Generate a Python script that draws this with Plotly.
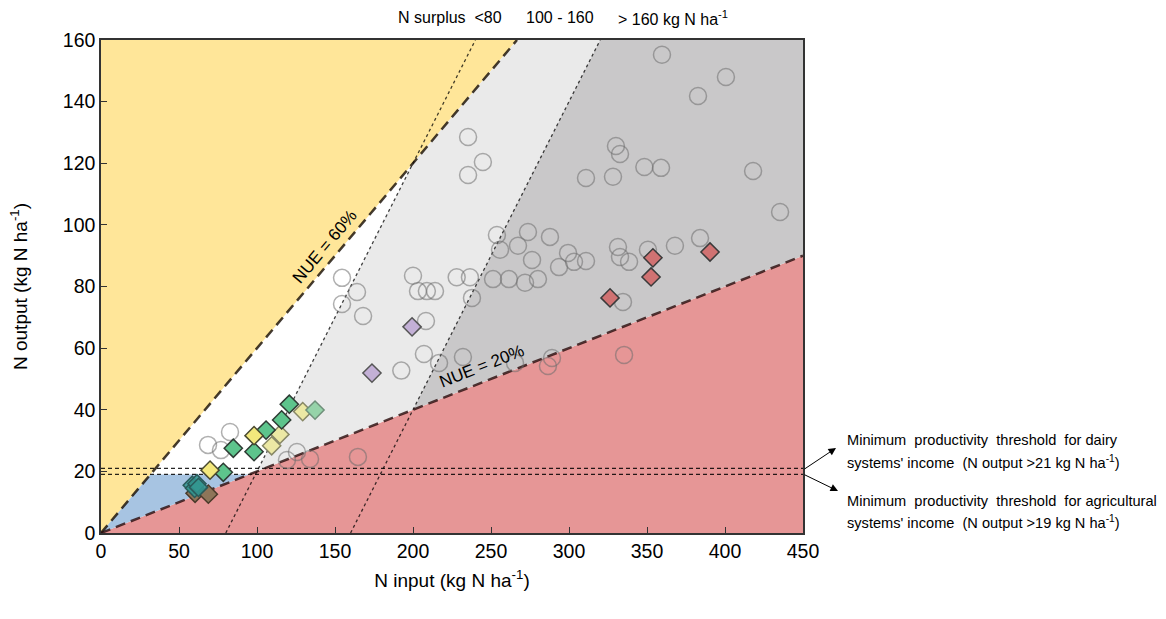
import plotly.graph_objects as go

# ---------------- data ----------------
nue_high = 0.60
nue_low = 0.20
surplus_a = 80
surplus_b = 160
thr_dairy = 21
thr_agri = 19
x_max = 450
y_max = 160

circ_x = [359.6, 400.6, 382.7, 235.3, 244.8, 235.3, 330.1, 332.7, 348.3, 359.0, 310.9, 328.2, 418.0, 435.3,
          253.8, 273.7, 287.8, 267.3, 255.8, 299.4, 276.3, 303.2, 310.9, 293.6, 331.4, 332.7, 338.5, 350.6,
          367.9, 384.0, 200.0, 228.0, 236.5, 251.3, 261.5, 271.8, 280.1, 203.2, 208.9, 214.1, 237.8, 208.3,
          207.0, 232.0, 192.5, 216.7, 265.4, 289.1, 286.5, 335.3, 334.6, 154.5, 164.1, 154.5, 168.0,
          68.6, 82.7, 76.9, 119.2, 125.6, 134.0, 164.7]
circ_y = [155.2, 148.0, 141.8, 128.5, 120.4, 116.2, 125.6, 123.0, 118.8, 118.5, 115.2, 115.6, 117.5, 104.2,
          96.7, 97.7, 96.1, 93.2, 91.9, 90.9, 88.6, 88.0, 88.3, 86.3, 92.8, 89.6, 88.0, 91.9,
          93.2, 95.7, 83.5, 83.0, 83.0, 82.4, 82.4, 81.2, 82.4, 78.5, 78.5, 78.5, 76.3, 68.8,
          58.1, 57.1, 52.7, 55.2, 55.2, 56.8, 54.2, 57.8, 75.0, 82.8, 78.2, 74.3, 70.4,
          28.6, 32.8, 26.9, 23.7, 26.3, 24.0, 24.7]

red_x = [353.8, 390.4, 352.6, 326.3]
red_y = [89.3, 91.2, 83.1, 76.3]
purple_x = [199.4, 173.7]
purple_y = [66.9, 51.9]
green_x = [120.7, 115.8, 105.8, 84.8, 98.1, 78.4]
green_y = [41.8, 36.7, 33.4, 27.5, 26.4, 19.7]
lgreen_x = [137.2]
lgreen_y = [39.9]
yellow_x = [98.1, 69.9]
yellow_y = [31.6, 20.4]
pyellow_x = [129.3, 114.7, 109.4]
pyellow_y = [39.4, 32.0, 28.3]
brown_x = [60.3, 68.8]
brown_y = [12.9, 12.6]
teal_x = [58.5, 60.0, 61.5, 62.5]
teal_y = [15.5, 14.5, 16.0, 14.8]

x_ticks = [0, 50, 100, 150, 200, 250, 300, 350, 400, 450]
y_ticks = [0, 20, 40, 60, 80, 100, 120, 140, 160]

FONT = "Liberation Sans, Arial, sans-serif"

fig = go.Figure()

def poly(xs, ys, color):
    fig.add_trace(go.Scatter(x=xs + [xs[0]], y=ys + [ys[0]], mode="lines", fill="toself",
                             fillcolor=color, line=dict(width=0), hoverinfo="skip", showlegend=False))

# regions derived from thresholds
x60_top = y_max / nue_high
poly([0, x60_top, 0], [0, y_max, y_max], "#FFE699")
poly([0, x_max, x_max], [0, x_max * nue_low, 0], "#E69696")
xa_low = surplus_a / (1 - nue_low)
xa_high = surplus_a / (1 - nue_high)
xb_low = surplus_b / (1 - nue_low)
poly([xa_low, xa_high, x60_top, surplus_b + y_max, xb_low],
     [xa_low - surplus_a, xa_high - surplus_a, y_max, y_max, xb_low - surplus_b], "#EAEAEA")
poly([xb_low, surplus_b + y_max, x_max, x_max],
     [xb_low - surplus_b, y_max, y_max, x_max * nue_low], "#C9C8C9")
poly([0, thr_agri / nue_high, thr_agri / nue_low], [0, thr_agri, thr_agri], "#A7C4E2")

def line(xs, ys, color, width, dash):
    fig.add_trace(go.Scatter(x=xs, y=ys, mode="lines", line=dict(color=color, width=width, dash=dash),
                             hoverinfo="skip", showlegend=False))

# surplus dotted lines
line([surplus_a, surplus_a + y_max], [0, y_max], "rgba(0,0,0,0.75)", 1.3, "dot")
line([surplus_b, surplus_b + y_max], [0, y_max], "rgba(0,0,0,0.75)", 1.3, "dot")
# thresholds
line([0, x_max], [thr_dairy, thr_dairy], "rgba(0,0,0,0.85)", 1.2, "4px,3px")
line([0, x_max], [thr_agri, thr_agri], "rgba(0,0,0,0.85)", 1.2, "4px,3px")
# NUE lines
line([0, x60_top], [0, y_max], "rgba(20,10,0,0.8)", 2.5, "10px,6px")
line([0, x_max], [0, x_max * nue_low], "rgba(40,10,10,0.8)", 2.5, "10px,6px")

# circles
fig.add_trace(go.Scatter(x=circ_x, y=circ_y, mode="markers",
                         marker=dict(symbol="circle-open", size=17, color="rgba(110,110,110,0.55)",
                                     line=dict(width=1.5)),
                         showlegend=False))

def dia(xs, ys, fill, border):
    fig.add_trace(go.Scatter(x=xs, y=ys, mode="markers",
                             marker=dict(symbol="diamond", size=14, color=fill,
                                         line=dict(width=1.5, color=border)),
                             showlegend=False))

dia(brown_x, brown_y, "#8E7559", "#4a3a2a")
dia(teal_x, teal_y, "rgba(52,150,145,0.85)", "#2a5a5a")
dia(red_x, red_y, "#D07272", "#3a3a3a")
dia(purple_x, purple_y, "#C3B0D6", "#555555")
dia(pyellow_x, pyellow_y, "#ECE8A4", "#888866")
dia(lgreen_x, lgreen_y, "#96D3A9", "#6f8f7a")
dia(green_x, green_y, "#5DC48C", "#2d3b33")
dia(yellow_x, yellow_y, "#F3E87C", "#4a4a30")

ann = []
# NUE labels
ann.append(dict(x=143.5, y=93.0, xref="x", yref="y", text="NUE = 60%", showarrow=False,
                textangle=-50, font=dict(size=17, color="black", family=FONT)))
ann.append(dict(x=243.6, y=54.2, xref="x", yref="y", text="NUE = 20%", showarrow=False,
                textangle=-21.5, font=dict(size=17, color="black", family=FONT)))
# top surplus labels
for txt, xc in [("N surplus&nbsp;&nbsp;&lt;80", 223.7), ("100 - 160", 294.0),
                ("&gt; 160 kg N ha<sup>-1</sup>", 366.7)]:
    ann.append(dict(x=xc, y=1.045, xref="x", yref="paper", text=txt, showarrow=False,
                    font=dict(size=16, color="black", family=FONT), yanchor="middle"))

# arrows (paper coordinates; plot area spans 702 x 493 px)
def px_to_paper(px, py):
    return (px - 101) / 702, (533 - py) / 493

tx1, ty1 = px_to_paper(836, 448)
tx2, ty2 = px_to_paper(838, 491)
ann.append(dict(x=tx1, y=ty1, xref="paper", yref="paper", ax=-33, ay=22, axref="pixel", ayref="pixel",
                text="", showarrow=True, arrowhead=2, arrowsize=1.5, arrowwidth=1, arrowcolor="black"))
ann.append(dict(x=tx2, y=ty2, xref="paper", yref="paper", ax=-35, ay=-17, axref="pixel", ayref="pixel",
                text="", showarrow=True, arrowhead=2, arrowsize=1.5, arrowwidth=1, arrowcolor="black"))

notes = [
    ("Minimum&nbsp; productivity&nbsp; threshold&nbsp; for dairy", 440),
    ("systems' income&nbsp; (N output &gt;21 kg N ha<sup>-1</sup>)", 462),
    ("Minimum&nbsp; productivity&nbsp; threshold&nbsp; for agricultural", 501),
    ("systems' income&nbsp; (N output &gt;19 kg N ha<sup>-1</sup>)", 522),
]
for txt, py in notes:
    nx, ny = px_to_paper(845, py)
    ann.append(dict(x=nx, y=ny, xref="paper", yref="paper", xanchor="left", yanchor="middle",
                    align="left", showarrow=False, text=txt,
                    font=dict(size=14.6, color="black", family=FONT)))

fig.update_layout(
    width=1166, height=619,
    margin=dict(l=101, r=363, t=40, b=86),
    paper_bgcolor="white", plot_bgcolor="white",
    font=dict(family=FONT, color="black"),
    annotations=ann,
    showlegend=False,
)
fig.update_xaxes(range=[0, x_max], tickvals=x_ticks,
                 ticks="inside", ticklen=6, tickcolor="#333", showline=True, linecolor="#333", linewidth=1.5,
                 mirror=True, showgrid=False, zeroline=False, tickfont=dict(size=19.5),
                 title=dict(text="N input (kg N ha<sup>-1</sup>)", font=dict(size=19), standoff=13))
fig.update_yaxes(range=[0, y_max], tickvals=y_ticks,
                 ticks="inside", ticklen=6, tickcolor="#333", showline=True, linecolor="#333", linewidth=1.5,
                 mirror=True, showgrid=False, zeroline=False, tickfont=dict(size=19.5),
                 title=dict(text="N output (kg N ha<sup>-1</sup>)", font=dict(size=19), standoff=30))

fig.write_html("out.html")
